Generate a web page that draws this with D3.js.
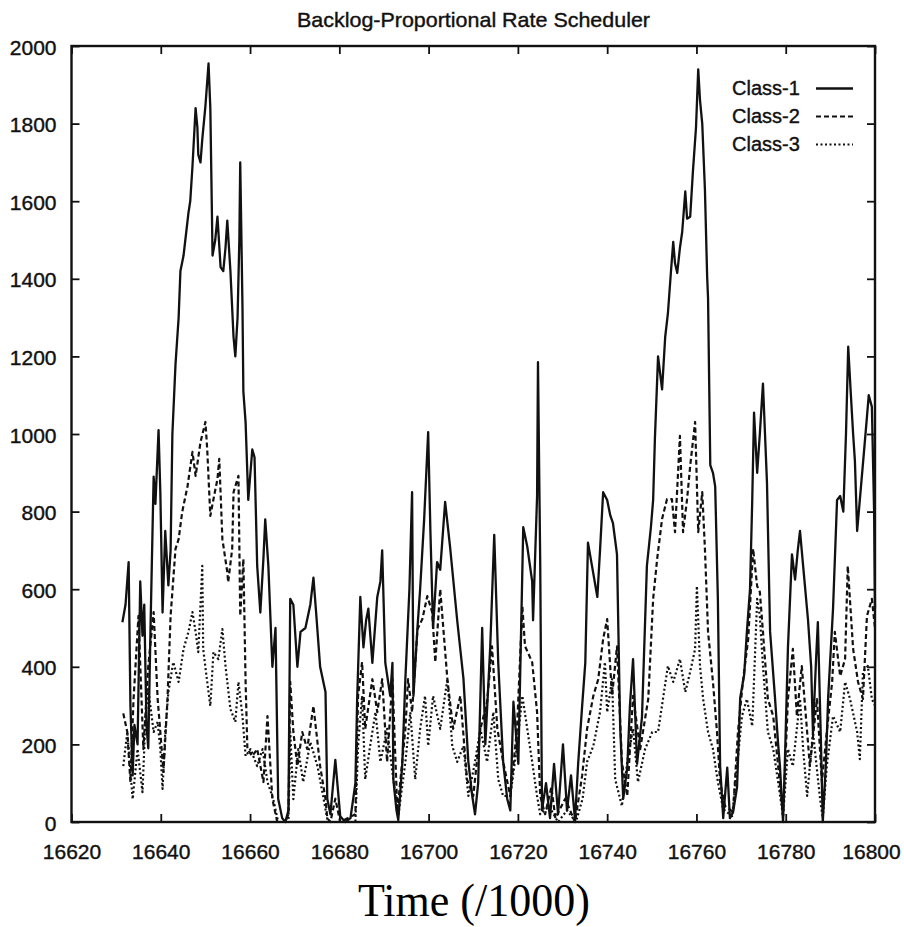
<!DOCTYPE html>
<html>
<head>
<meta charset="utf-8">
<script src="https://cdn.jsdelivr.net/npm/d3@7"></script>
<style>
  html, body { margin: 0; padding: 0; background: #fff; }
  svg { display: block; }
</style>
</head>
<body>
<svg id="chart" width="904" height="927"></svg>
<script>
// ---------------- data ----------------
const chartTitle = "Backlog-Proportional Rate Scheduler";
const xAxisTitle = "Time (/1000)";
const seriesNames = ["Class-1", "Class-2", "Class-3"];
const xTicks = [16620, 16640, 16660, 16680, 16700, 16720, 16740, 16760, 16780, 16800];
const yTicks = [0, 200, 400, 600, 800, 1000, 1200, 1400, 1600, 1800, 2000];

const class1Time = [16631.4,16632.1,16632.8,16633.2,16633.7,16634.1,16634.8,16635.4,16635.9,16636.3,16636.8,16637.2,16637.7,16638.4,16638.8,16639.5,16639.9,16640.4,16641.0,16641.7,16642.2,16642.6,16643.3,16644.0,16644.4,16645.1,16645.5,16646.2,16646.6,16647.1,16647.8,16648.2,16648.4,16648.9,16649.3,16650.0,16650.7,16651.1,16651.6,16652.2,16652.7,16653.4,16654.0,16654.5,16654.9,16655.6,16656.3,16656.7,16657.2,16657.6,16657.8,16658.3,16658.5,16659.0,16659.6,16660.5,16661.0,16661.6,16662.3,16663.0,16663.4,16664.1,16665.0,16665.7,16666.3,16667.2,16667.9,16668.6,16669.0,16669.7,16670.6,16671.3,16672.4,16673.5,16674.2,16674.8,16675.7,16676.9,16677.3,16678.0,16679.1,16680.2,16681.3,16682.5,16683.6,16684.0,16684.7,16685.4,16686.0,16686.5,16687.4,16688.5,16689.2,16689.6,16690.3,16691.4,16691.9,16692.1,16692.8,16693.2,16694.1,16694.8,16695.7,16696.3,16696.6,16697.5,16698.1,16699.0,16699.9,16700.4,16701.0,16701.9,16702.6,16703.7,16704.8,16706.4,16707.8,16708.9,16709.8,16710.4,16711.1,16712.0,16712.7,16713.8,16714.7,16715.6,16716.7,16717.6,16718.3,16719.0,16720.1,16721.2,16722.1,16723.2,16723.4,16724.3,16724.5,16725.0,16725.4,16726.3,16727.2,16728.1,16729.0,16730.1,16731.0,16731.9,16732.8,16733.5,16734.4,16735.1,16735.7,16736.6,16737.8,16738.4,16739.1,16740.0,16740.7,16741.3,16742.2,16742.9,16743.6,16744.5,16745.1,16745.8,16746.7,16747.8,16748.9,16749.8,16750.3,16750.7,16751.4,16752.3,16753.0,16753.6,16754.3,16754.8,16755.2,16755.7,16756.3,16756.8,16757.5,16757.9,16758.6,16759.2,16759.9,16760.4,16760.8,16761.3,16761.9,16762.4,16762.6,16763.1,16763.7,16764.2,16764.8,16765.3,16766.0,16766.9,16767.5,16768.2,16769.1,16769.8,16770.7,16771.3,16772.0,16772.5,16772.9,16773.6,16774.2,16774.9,16775.8,16776.5,16777.6,16778.3,16778.7,16779.4,16779.8,16780.5,16781.4,16782.1,16782.7,16783.2,16783.9,16785.0,16785.7,16786.1,16786.8,16787.2,16787.9,16788.3,16789.0,16789.5,16790.6,16791.5,16792.2,16792.9,16793.5,16794.0,16794.6,16795.1,16795.5,16796.0,16796.6,16797.5,16798.2,16798.6,16799.3,16799.8,16800.0];
const class1Value = [515,560,670,300,120,250,200,620,480,560,250,190,500,890,820,1010,850,540,750,610,700,1000,1180,1300,1420,1460,1500,1570,1600,1690,1840,1790,1720,1700,1760,1845,1955,1840,1460,1500,1560,1430,1420,1480,1550,1420,1250,1200,1300,1500,1700,1330,1110,1030,830,960,940,660,540,680,780,660,400,500,60,10,0,30,575,560,400,490,500,560,630,540,400,335,60,20,160,15,0,10,100,320,580,450,520,550,410,580,620,700,410,325,410,110,30,5,150,370,600,850,325,500,600,780,1005,750,500,670,650,825,710,520,370,155,65,20,100,500,200,450,740,410,155,60,30,310,150,760,710,620,520,840,1185,670,30,100,10,150,20,200,30,120,5,150,300,410,720,660,580,700,850,830,790,770,690,250,60,140,300,420,150,270,660,760,830,990,1200,1115,1250,1310,1420,1495,1440,1415,1480,1520,1625,1555,1560,1675,1790,1940,1860,1800,1630,1405,1350,920,900,865,575,145,10,140,10,25,90,320,380,490,600,830,1055,900,1000,1130,875,490,320,200,145,0,150,450,690,625,700,750,660,520,400,230,420,515,200,0,150,320,550,830,840,800,1000,1225,1100,1000,930,750,830,950,1045,1100,1070,800,550];

const class2Time = [16631.6,16632.5,16633.2,16633.9,16635.0,16636.1,16637.2,16638.4,16639.3,16639.9,16640.6,16641.5,16642.2,16643.3,16644.0,16644.8,16646.0,16647.1,16647.8,16648.9,16650.0,16650.4,16651.1,16651.8,16652.7,16653.1,16653.8,16654.9,16655.1,16656.0,16656.3,16657.4,16657.8,16658.5,16659.0,16659.4,16660.5,16661.6,16663.0,16663.9,16665.0,16666.1,16667.9,16668.6,16669.0,16669.7,16670.6,16671.7,16672.8,16674.2,16675.7,16676.9,16677.3,16678.0,16679.1,16680.2,16683.6,16684.2,16685.1,16685.8,16687.4,16688.5,16689.6,16690.7,16691.9,16693.0,16694.8,16695.4,16696.3,16697.5,16698.6,16699.7,16700.8,16701.5,16702.6,16704.2,16705.5,16707.1,16708.6,16710.0,16711.6,16713.1,16714.2,16715.4,16716.7,16718.3,16719.8,16721.0,16721.6,16723.2,16724.3,16725.0,16726.1,16727.5,16728.4,16730.6,16732.8,16734.4,16735.5,16736.9,16738.0,16739.1,16740.0,16741.1,16742.2,16743.3,16744.5,16745.8,16747.4,16749.2,16750.3,16751.2,16752.3,16753.4,16754.5,16755.2,16756.3,16757.0,16757.9,16758.6,16759.7,16760.4,16761.3,16761.9,16762.6,16763.7,16764.6,16765.3,16766.4,16768.2,16769.3,16770.4,16771.6,16772.7,16773.6,16774.2,16774.9,16776.0,16777.2,16778.3,16779.4,16780.5,16781.6,16782.5,16783.6,16784.8,16785.4,16787.0,16788.1,16789.2,16790.4,16791.0,16792.2,16793.3,16793.9,16795.1,16796.2,16797.3,16798.2,16799.3,16800.0];
const class2Value = [280,232,103,317,531,188,402,541,317,232,129,317,531,704,729,799,866,954,892,979,1031,961,789,832,884,936,729,644,618,704,850,892,531,678,361,188,170,188,103,273,59,0,0,20,361,232,144,232,188,299,144,59,10,0,60,0,20,325,412,240,368,283,368,155,368,26,240,368,283,497,523,582,541,412,600,368,240,325,110,67,240,309,453,240,155,67,240,556,453,412,283,67,20,90,10,60,0,120,240,325,368,472,523,325,453,155,67,325,188,317,575,678,781,832,832,747,995,747,832,918,1031,747,850,704,490,361,232,103,41,26,232,361,472,704,608,593,490,317,273,144,15,317,446,273,402,232,144,317,103,232,361,490,376,420,660,446,361,317,531,575,500];

const class3Time = [16631.6,16632.5,16633.7,16634.8,16635.9,16636.6,16637.2,16638.4,16639.3,16639.9,16640.4,16641.0,16641.7,16642.8,16644.0,16645.1,16646.2,16647.1,16647.8,16648.4,16649.3,16649.5,16650.4,16651.1,16651.8,16652.9,16653.8,16654.5,16655.6,16656.7,16657.4,16658.3,16659.0,16660.1,16661.6,16662.8,16663.9,16665.2,16666.3,16668.6,16669.0,16669.7,16670.8,16671.9,16673.5,16675.1,16676.2,16677.3,16678.0,16683.6,16684.2,16685.1,16685.8,16686.9,16688.1,16689.2,16690.7,16692.1,16693.2,16694.8,16695.9,16697.0,16698.1,16699.2,16699.9,16701.0,16702.6,16704.2,16705.3,16706.4,16707.8,16708.9,16710.4,16711.6,16713.1,16714.5,16715.6,16716.7,16718.3,16719.8,16721.0,16722.1,16723.2,16724.3,16725.0,16727.0,16729.0,16731.0,16733.0,16734.5,16735.5,16736.9,16738.4,16739.5,16740.0,16741.1,16741.8,16743.3,16744.5,16745.8,16746.9,16748.5,16750.1,16751.4,16752.5,16753.6,16754.8,16756.3,16757.5,16758.6,16759.7,16760.1,16760.8,16761.5,16762.6,16763.7,16764.8,16766.0,16768.0,16769.1,16770.2,16771.3,16772.5,16773.6,16774.2,16774.9,16776.0,16777.2,16778.3,16779.4,16780.5,16781.6,16783.2,16783.9,16784.8,16786.1,16787.7,16788.3,16789.2,16790.6,16792.2,16793.3,16794.4,16796.0,16796.6,16797.3,16798.4,16799.3,16800.0];
const class3Value = [144,232,59,188,77,273,343,232,258,188,85,232,335,412,361,446,490,541,490,438,660,446,361,299,438,420,497,402,291,258,361,273,170,188,144,188,103,59,0,0,232,59,188,103,206,144,77,8,0,0,196,325,110,196,283,155,240,110,15,155,283,110,240,325,196,325,240,368,196,155,196,67,155,240,155,283,110,67,67,196,325,240,155,67,20,40,0,30,0,60,155,196,283,412,283,368,110,41,155,240,103,188,232,232,317,402,361,420,335,387,446,608,402,317,232,188,103,33,15,144,273,317,247,575,531,402,232,188,103,15,188,144,317,188,67,232,59,10,144,273,232,361,317,232,162,387,402,317,300];

// ---------------- layout ----------------
const svg = d3.select("#chart");
const plot = { left: 71.5, right: 875, top: 46, bottom: 822 };
const ink = "#111";

const x = d3.scaleLinear().domain([16620, 16800]).range([plot.left, plot.right]);
const y = d3.scaleLinear().domain([0, 2000]).range([plot.bottom, plot.top]);

svg.append("rect").attr("width", 904).attr("height", 927).attr("fill", "#fff");

// title
svg.append("text")
  .attr("x", 297).attr("y", 27)
  .attr("font-family", "'Liberation Sans', Arial, sans-serif")
  .attr("font-size", 21)
  .attr("textLength", 353).attr("lengthAdjust", "spacingAndGlyphs")
  .attr("fill", ink).attr("stroke", ink).attr("stroke-width", 0.4)
  .text(chartTitle);

// series
const series = [
  { name: seriesNames[0], t: class1Time, v: class1Value, dash: null, width: 2.3 },
  { name: seriesNames[1], t: class2Time, v: class2Value, dash: "5,3", width: 2.2 },
  { name: seriesNames[2], t: class3Time, v: class3Value, dash: "2,2.5", width: 2.2 }
];
const line = d3.line().x(d => x(d[0])).y(d => y(d[1]));

const gLines = svg.append("g");
series.slice().reverse().forEach(s => {
  const pts = s.t.map((t, i) => [t, s.v[i]]);
  gLines.append("path")
    .datum(pts)
    .attr("d", line)
    .attr("fill", "none")
    .attr("stroke", ink)
    .attr("stroke-width", s.width)
    .attr("stroke-linejoin", "round")
    .attr("stroke-dasharray", s.dash);
});

// axes (gnuplot style: inward ticks mirrored on all sides)
const tickLen = 8;
const axisFont = "'Liberation Sans', Arial, sans-serif";

const xBottom = d3.axisBottom(x).tickValues(xTicks).tickSize(-tickLen).tickPadding(tickLen + 14).tickFormat(d3.format("d"));
const xTop = d3.axisTop(x).tickValues(xTicks).tickSize(-tickLen).tickFormat("");
const yLeft = d3.axisLeft(y).tickValues(yTicks).tickSize(-tickLen).tickPadding(tickLen + 15).tickFormat(d3.format("d"));
const yRight = d3.axisRight(y).tickValues(yTicks).tickSize(-tickLen).tickFormat("");

function styleAxis(g) {
  g.select(".domain").remove();
  g.selectAll(".tick line").attr("stroke", ink).attr("stroke-width", 1.8);
  g.selectAll(".tick text").attr("fill", ink).attr("font-family", axisFont).attr("font-size", 21)
    .attr("stroke", ink).attr("stroke-width", 0.4);
}

const gxb = svg.append("g").attr("transform", `translate(0,${plot.bottom})`).call(xBottom).call(styleAxis);
gxb.selectAll(".tick text")
  .attr("dy", null).attr("y", 37)
  .attr("x", d => d === 16800 ? -4 : 0);

svg.append("g").attr("transform", `translate(0,${plot.top})`).call(xTop).call(styleAxis);

const gyl = svg.append("g").attr("transform", `translate(${plot.left},0)`).call(yLeft).call(styleAxis);
gyl.selectAll(".tick text")
  .attr("dy", null).attr("y", 8).attr("x", -15);

svg.append("g").attr("transform", `translate(${plot.right},0)`).call(yRight).call(styleAxis);

// frame
svg.append("rect")
  .attr("x", plot.left).attr("y", plot.top)
  .attr("width", plot.right - plot.left).attr("height", plot.bottom - plot.top)
  .attr("fill", "none").attr("stroke", ink).attr("stroke-width", 2.4);

// legend
const legend = svg.append("g");
const legendBase = [95, 123, 151];
series.forEach((s, i) => {
  legend.append("text")
    .attr("x", 732).attr("y", legendBase[i])
    .attr("font-family", axisFont).attr("font-size", 20)
    .attr("fill", ink).attr("stroke", ink).attr("stroke-width", 0.4)
    .text(s.name);
  legend.append("line")
    .attr("x1", 816).attr("x2", 853)
    .attr("y1", legendBase[i] - 6.5).attr("y2", legendBase[i] - 6.5)
    .attr("stroke", ink).attr("stroke-width", s.width)
    .attr("stroke-dasharray", s.dash);
});

// x-axis title
svg.append("text")
  .attr("x", 358).attr("y", 916)
  .attr("font-family", "'Liberation Serif', 'Times New Roman', serif")
  .attr("font-size", 46)
  .attr("textLength", 232).attr("lengthAdjust", "spacingAndGlyphs")
  .attr("fill", "#000")
  .text(xAxisTitle);
</script>
</body>
</html>
